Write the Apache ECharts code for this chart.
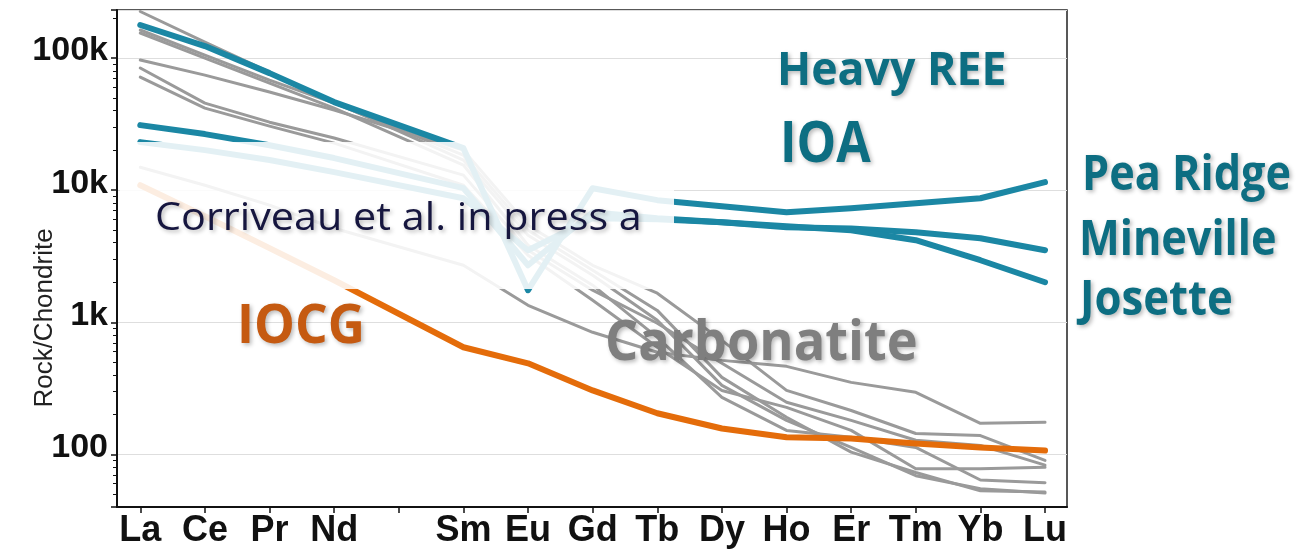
<!DOCTYPE html>
<html>
<head>
<meta charset="utf-8">
<title>REE chondrite-normalised patterns</title>
<script src="https://cdn.jsdelivr.net/npm/echarts@6/dist/echarts.min.js"></script>
<style>
html,body{margin:0;padding:0;background:#fff;}
#chart{width:1301px;height:558px;}
</style>
</head>
<body>
<div id="chart"></div>
<script>
// element order along the x axis (Pm left blank, lines skip it)
var elements = ['La','Ce','Pr','Nd','Pm','Sm','Eu','Gd','Tb','Dy','Ho','Er','Tm','Yb','Lu'];
var yTicks = [100, 1000, 10000, 100000];
var yTickLabels = ['100', '1k', '10k', '100k'];

// IOA (teal)
var peaRidge  = [177800,123300,76900,46400,null,20800,1750,10350,8400,7560,6810,7310,7970,8690,11500];
var mineville = [31060,26570,21900,17500,null,10350,2700,6810,6140,5720,5250,5130,4810,4330,3510];
var josette   = [23100,20100,16900,13700,null,8690,3510,6140,6020,5720,5340,4980,4180,2950,2010];
// IOCG (orange)
var iocg = [10900,6350,3640,2080,null,647,489,305,205,157,135,132,121,113,107];
// carbonatites (grey)
var carb1 = [225000,132200,78300,46400,null,16900,4560,2270,1036,333,181,113,69,55,51];
var carb2 = [163000,105400,68100,45600,null,18400,4980,2480,1230,383,191,104,73,53,52];
var carb3 = [154700,100000,64700,41800,null,15500,3830,1910,770,270,152,135,113,64,61];
var carb4 = [96600,74300,55300,40400,null,20100,5430,2700,1660,730,305,215,144,139,90];
var carb5 = [84000,45600,32700,24800,null,13000,3510,1750,983,489,248,181,128,117,83];
var carb6 = [71800,41800,30500,22700,null,10900,3220,1470,647,305,227,152,78,78,80];
var carb7 = [14900,10900,7700,5150,null,2700,1345,840,593,515,464,351,295,172,175];

var carbonatites = [carb1, carb2, carb3, carb4, carb5, carb6, carb7];
var ioa = [peaRidge, mineville, josette];

var xIdx = [];
for (var i = 0; i < elements.length; i++) xIdx.push(i);

var toPoints = function(vals){
  var pts = [];
  for (var i = 0; i < vals.length; i++) {
    if (vals[i] !== null) pts.push([i, vals[i]]);
  }
  return pts;
};

var lineSeries = function(vals, color, width, z){
  return {
    type: 'line',
    data: toPoints(vals),
    symbol: 'none',
    z: z,
    lineStyle: { color: color, width: width, cap: 'round', join: 'round' },
    emphasis: { disabled: true }
  };
};

var series = [];
for (var c = 0; c < carbonatites.length; c++) {
  series.push(lineSeries(carbonatites[c], '#9a9a9a', 3, 2));
}
series.push(lineSeries(iocg, '#e46c0a', 6, 3));
for (var t = 0; t < ioa.length; t++) {
  series.push(lineSeries(ioa[t], '#1b87a4', 6, 4));
}

var fmtY = function(v){
  for (var i = 0; i < yTicks.length; i++) {
    if (Math.abs(v - yTicks[i]) < 1e-6 * yTicks[i]) return yTickLabels[i];
  }
  return '';
};

// x = left edge, base = baseline of the text (text is drawn top aligned, so shift up)
var label = function(text, x, base, size, weight, color, sx){
  return {
    type: 'text', x: x, y: base - 0.79 * size, z: 101, scaleX: sx,
    style: {
      text: text, fill: color,
      font: weight + ' ' + size + 'px "Open Sans"',
      textAlign: 'left', textVerticalAlign: 'top',
      textShadowColor: 'rgba(0,0,0,0.28)', textShadowBlur: 4,
      textShadowOffsetX: 2, textShadowOffsetY: 2
    }
  };
};

var myChart = echarts.init(document.getElementById('chart'));
var option = {
  animation: false,
  backgroundColor: '#fff',
  grid: { left: 117, right: 234, top: 10, bottom: 51, show: true, borderColor: '#222', borderWidth: 1.5 },
  xAxis: {
    type: 'value', min: -0.36, max: 14.34,
    axisLine: { show: true, onZero: false, lineStyle: { color: '#111', width: 2 } },
    axisTick: { show: true, customValues: xIdx, length: 6, lineStyle: { color: '#111', width: 1.5 } },
    axisLabel: {
      customValues: xIdx, margin: 6,
      formatter: function(v){ return elements[Math.round(v)] === 'Pm' ? '' : elements[Math.round(v)]; },
      fontSize: 36, fontWeight: 'bold', color: '#111', fontFamily: '"Liberation Sans", Arial'
    },
    splitLine: { show: false }
  },
  yAxis: {
    type: 'log', logBase: 10, min: 40, max: 231000,
    axisLine: { show: true, onZero: false, lineStyle: { color: '#111', width: 2 } },
    axisTick: { show: true, length: 6, lineStyle: { color: '#111', width: 1.5 } },
    minorTick: { show: true, splitNumber: 9, length: 4, lineStyle: { color: '#111', width: 1 } },
    axisLabel: {
      formatter: fmtY, margin: 9, verticalAlign: 'bottom', lineHeight: 14,
      fontSize: 34, fontWeight: 'bold', color: '#111', fontFamily: '"Liberation Sans", Arial'
    },
    splitLine: { show: true, lineStyle: { color: '#dedede', width: 1 } }
  },
  graphic: [
    // semi-transparent box behind the citation
    { type: 'rect', z: 100, shape: { x: 120, y: 142, width: 554, height: 147 }, style: { fill: 'rgba(255,255,255,0.88)' } },
    // y axis title
    {
      type: 'text', x: 45, y: 318, rotation: Math.PI / 2, z: 101,
      style: { text: 'Rock/Chondrite', fill: '#222', font: '26px "Liberation Sans", Arial', textAlign: 'center', textVerticalAlign: 'middle' }
    },
    label('Heavy REE', 777, 85, 47, 'bold', '#0d6e82', 0.95),
    label('IOA', 780, 162, 58, 'bold', '#0d6e82', 0.86),
    label('Pea Ridge', 1082, 190, 48, 'bold', '#0d6e82', 0.9),
    label('Mineville', 1079, 255, 48, 'bold', '#0d6e82', 0.9),
    label('Josette', 1080, 315, 48, 'bold', '#0d6e82', 0.91),
    label('Corriveau et al. in press a', 155, 230, 39, 'normal', '#16163f', 1.06),
    label('IOCG', 237, 343, 53, 'bold', '#c55a11', 0.97),
    label('Carbonatite', 605, 360, 56, 'bold', '#7f7f7f', 0.935)
  ],
  series: series
};
myChart.setOption(option);
window.addEventListener('resize', function(){ myChart.resize(); });
</script>
</body>
</html>
